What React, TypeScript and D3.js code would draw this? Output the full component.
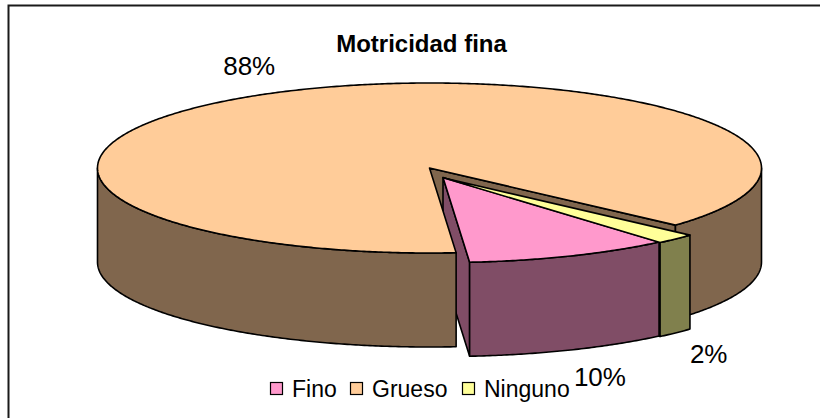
import React from "react";
import * as d3 from "d3";

// ---- data ----
const categories = ["Fino", "Grueso", "Ninguno"];
const values = [10, 88, 2];
const percentLabels = ["10%", "88%", "2%"];
const title = "Motricidad fina";

// ---- styles / layout ----
const topColors = ["#FF99CC", "#FFCC99", "#FFFF99"];
const explodeOffsets = [
  { dx: 13.5, dy: 9.5 },
  { dx: 0, dy: 0 },
  { dx: 14.5, dy: 10 },
];
const labelNudgeX = [0, 0, -20];
const legendX = [270, 350, 462];

const W = 820;
const H = 418;
const cx = 429.5;
const cy = 168;
const rx = 332;
const ry = 85;
const depth = 94;
const deg = Math.PI / 180;
const startAngle = 139.4 * deg;
const FONT = "Arial, 'Liberation Sans', sans-serif";

type Off = { dx: number; dy: number };
const P = (a: number, r: number, off: Off, h: number): [number, number] => [
  cx + off.dx + rx * r * Math.sin(a),
  cy + off.dy - ry * r * Math.cos(a) + h,
];
const arcPts = (a0: number, a1: number, off: Off, h: number) => {
  const n = Math.max(2, Math.ceil(Math.abs(a1 - a0) / (0.5 * deg)));
  return d3.range(n + 1).map((i) => P(a0 + ((a1 - a0) * i) / n, 1, off, h));
};
const half = (c: string) => {
  const k = d3.rgb(c);
  return d3.rgb(k.r / 2, k.g / 2, k.b / 2).formatHex();
};

export default function App() {
  const pie = d3
    .pie<number>()
    .sort(null)
    .startAngle(startAngle)
    .endAngle(startAngle + 2 * Math.PI);
  const arcs = pie(values);
  const line = d3.line();

  const radials: { d: string; fill: string; z: number }[] = [];
  const walls: { d: string; fill: string; z: number }[] = [];
  const tops: { d: string; fill: string; z: number }[] = [];

  arcs.forEach((arc, i) => {
    const off = explodeOffsets[i];
    const a0 = arc.startAngle;
    const a1 = arc.endAngle;
    const side = half(topColors[i]);
    // radial faces
    [
      { a: a0, n: a0 - Math.PI / 2 },
      { a: a1, n: a1 + Math.PI / 2 },
    ].forEach(({ a, n }) => {
      if (-Math.cos(n) > 0) {
        const pts = [P(a, 0, off, 0), P(a, 1, off, 0), P(a, 1, off, depth), P(a, 0, off, depth)];
        radials.push({ d: line(pts as any) + "Z", fill: side, z: P(a, 1, off, 0)[1] });
      }
    });
    // outer walls (front-facing part)
    for (let k = -1; k <= 2; k++) {
      const lo = Math.max(a0, Math.PI / 2 + 2 * Math.PI * k);
      const hi = Math.min(a1, (3 * Math.PI) / 2 + 2 * Math.PI * k);
      if (hi > lo) {
        const topPts = arcPts(lo, hi, off, 0);
        const botPts = arcPts(hi, lo, off, depth);
        const z = d3.max(botPts, (p) => p[1]) as number;
        walls.push({ d: line([...topPts, ...botPts] as any) + "Z", fill: side, z });
      }
    }
    // top face
    const pts = [P(0, 0, off, 0), ...arcPts(a0, a1, off, 0)];
    tops.push({ d: line(pts as any) + "Z", fill: topColors[i], z: off.dx + off.dy });
  });

  radials.sort((a, b) => a.z - b.z);
  walls.sort((a, b) => a.z - b.z);
  tops.sort((a, b) => a.z - b.z);

  const labels = arcs.map((arc, i) => {
    const off = explodeOffsets[i];
    const m = (arc.startAngle + arc.endAngle) / 2;
    const front = -Math.cos(m) > 0;
    const x = cx + off.dx + rx * 1.23 * Math.sin(m) + labelNudgeX[i];
    const y = cy + off.dy - ry * 1.34 * Math.cos(m) + (front ? depth : 0);
    return { x, y: y + 9, text: percentLabels[i] };
  });

  const faceStyle = { stroke: "#000", strokeWidth: 1.6, strokeLinejoin: "round" as const };

  return (
    <svg
      width={W}
      height={H}
      style={{ position: "absolute", left: 0, top: 0, background: "#fff" }}
      fontFamily={FONT}
    >
      <rect x={8.5} y={5.5} width={W + 20} height={H + 20} fill="#fff" stroke="#1a1a1a" strokeWidth={2} />
      <text x={421.5} y={52} textAnchor="middle" fontWeight="bold" fontSize={24} fill="#000">
        {title}
      </text>
      <g>
        {radials.map((f, i) => (
          <path key={"r" + i} d={f.d} fill={f.fill} {...faceStyle} />
        ))}
        {walls.map((f, i) => (
          <path key={"w" + i} d={f.d} fill={f.fill} {...faceStyle} />
        ))}
        {tops.map((f, i) => (
          <path key={"t" + i} d={f.d} fill={f.fill} {...faceStyle} />
        ))}
      </g>
      {labels.map((l, i) => (
        <text key={"l" + i} x={l.x} y={l.y} textAnchor="middle" fontSize={26} fill="#000">
          {l.text}
        </text>
      ))}
      <g>
        {categories.map((c, i) => (
          <g key={c}>
            <rect x={legendX[i] + 0.5} y={382.5} width={12} height={12} fill={topColors[i]} stroke="#000" strokeWidth={1.2} />
            <text x={legendX[i] + 22} y={396.5} fontSize={23} fill="#000">
              {c}
            </text>
          </g>
        ))}
      </g>
    </svg>
  );
}
